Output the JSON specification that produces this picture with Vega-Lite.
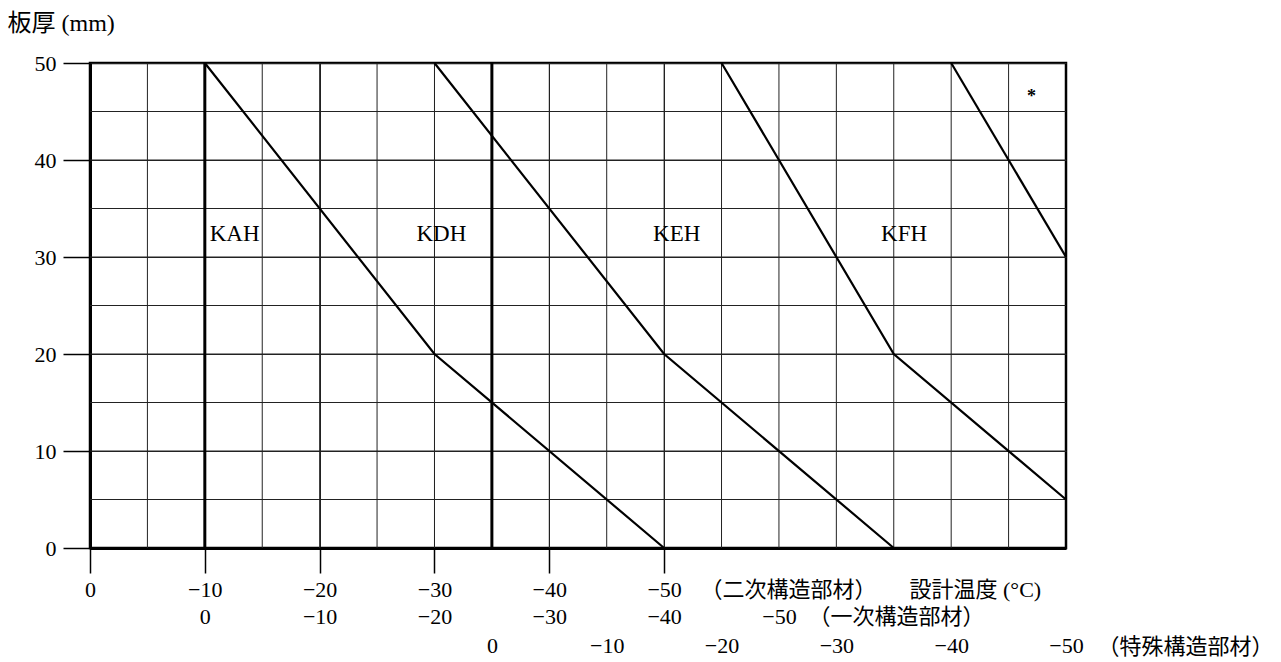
{
  "$schema": "https://vega.github.io/schema/vega-lite/v6.json",
  "width": 976,
  "height": 485,
  "padding": {"left": 7, "top": 11, "right": 5, "bottom": 5},
  "background": "white",
  "config": {
    "view": {"stroke": "black", "strokeWidth": 2.5},
    "axis": {
      "labelFont": "Liberation Serif",
      "labelFontSize": 22,
      "labelColor": "black",
      "titleFont": "'Liberation Serif', 'Noto Sans CJK JP'",
      "titleFontSize": 22,
      "titleFontWeight": "normal",
      "titleColor": "black",
      "labelFlush": false,
      "labelOverlap": false
    }
  },
  "datasets": {
    "curves": [
      {"series": "KAH", "x": -10, "y": 50},
      {"series": "KAH", "x": -30, "y": 20},
      {"series": "KAH", "x": -50, "y": 0},
      {"series": "KDH", "x": -30, "y": 50},
      {"series": "KDH", "x": -50, "y": 20},
      {"series": "KDH", "x": -70, "y": 0},
      {"series": "KEH", "x": -55, "y": 50},
      {"series": "KEH", "x": -70, "y": 20},
      {"series": "KEH", "x": -85, "y": 5},
      {"series": "KFH", "x": -75, "y": 50},
      {"series": "KFH", "x": -85, "y": 30}
    ],
    "labels": [
      {"x": -12.6, "y": 32.4, "text": "KAH"},
      {"x": -30.6, "y": 32.4, "text": "KDH"},
      {"x": -51.1, "y": 32.4, "text": "KEH"},
      {"x": -70.9, "y": 32.4, "text": "KFH"}
    ],
    "star": [{"x": -82, "y": 46.5, "text": "*"}],
    "thick": [{"x": -10}, {"x": -35}],
    "xgrid": [
      {"x": -5}, {"x": -10}, {"x": -15}, {"x": -20}, {"x": -25}, {"x": -30}, {"x": -35}, {"x": -40},
      {"x": -45}, {"x": -50}, {"x": -55}, {"x": -60}, {"x": -65}, {"x": -70}, {"x": -75}, {"x": -80}
    ],
    "ygrid": [
      {"y": 5}, {"y": 10}, {"y": 15}, {"y": 20}, {"y": 25}, {"y": 30}, {"y": 35}, {"y": 40}, {"y": 45}
    ],
    "dummy": [{"x": 0}]
  },
  "resolve": {"scale": {"x": "independent"}},
  "layer": [
    {
      "layer": [
        {
          "data": {"name": "xgrid"},
          "mark": {"type": "rule", "color": "#222", "strokeWidth": 1},
          "encoding": {
            "x": {
              "field": "x",
              "type": "quantitative",
              "scale": {"domain": [-85, 0], "reverse": true, "nice": false, "zero": false},
              "axis": {
                "orient": "bottom",
                "values": [0, -10, -20, -30, -40, -50],
                "grid": true,
                "gridColor": "#222",
                "gridWidth": 1,
                "domainColor": "black",
                "domainWidth": 3,
                "ticks": true,
                "tickColor": "black",
                "tickWidth": 1.5,
                "tickSize": 25,
                "labelPadding": 6,
                "title": "（二次構造部材）\u3000\u3000設計温度 (°C)",
                "titleX": 610,
                "titleY": 41,
                "titleAlign": "left",
                "titleAnchor": null,
                "titleBaseline": "middle"
              }
            }
          }
        },
        {
          "data": {"name": "ygrid"},
          "mark": {"type": "rule", "color": "#222", "strokeWidth": 1},
          "encoding": {
            "y": {
              "field": "y",
              "type": "quantitative",
              "scale": {"domain": [0, 50], "nice": false},
              "axis": {
                "orient": "left",
                "values": [0, 10, 20, 30, 40, 50],
                "grid": true,
                "gridColor": "#222",
                "gridWidth": 1,
                "domainColor": "black",
                "domainWidth": 3,
                "ticks": true,
                "tickColor": "black",
                "tickWidth": 1.5,
                "tickSize": 27,
                "labelPadding": 7,
                "title": "板厚 (mm)",
                "titleAngle": 0,
                "titleX": -83,
                "titleY": -40,
                "titleAlign": "left",
                "titleBaseline": "middle",
                "titleFontSize": 24
              }
            }
          }
        },
        {
          "data": {"name": "thick"},
          "mark": {"type": "rule", "color": "black", "strokeWidth": 3},
          "encoding": {
            "x": {"field": "x", "type": "quantitative"}
          }
        },
        {
          "data": {"name": "curves"},
          "mark": {"type": "line", "color": "black", "strokeWidth": 2.2},
          "encoding": {
            "x": {"field": "x", "type": "quantitative"},
            "y": {"field": "y", "type": "quantitative"},
            "detail": {"field": "series", "type": "nominal"}
          }
        },
        {
          "data": {"name": "labels"},
          "mark": {"type": "text", "font": "Liberation Serif", "fontSize": 23, "color": "black"},
          "encoding": {
            "x": {"field": "x", "type": "quantitative"},
            "y": {"field": "y", "type": "quantitative"},
            "text": {"field": "text"}
          }
        },
        {
          "data": {"name": "star"},
          "mark": {"type": "text", "font": "Liberation Serif", "fontSize": 18, "fontWeight": "bold", "color": "black"},
          "encoding": {
            "x": {"field": "x", "type": "quantitative"},
            "y": {"field": "y", "type": "quantitative"},
            "text": {"field": "text"}
          }
        }
      ]
    },
    {
      "data": {"name": "dummy"},
      "mark": {"type": "rule", "opacity": 0},
      "encoding": {
        "x": {
          "field": "x",
          "type": "quantitative",
          "scale": {"domain": [-75, 10], "reverse": true, "nice": false, "zero": false},
          "axis": {
            "orient": "bottom",
            "values": [0, -10, -20, -30, -40, -50],
            "grid": false,
            "domain": false,
            "ticks": false,
            "tickSize": 0,
            "labelPadding": 58,
            "title": "（一次構造部材）",
            "titleX": 718,
            "titleY": 68,
            "titleAlign": "left",
            "titleAnchor": null,
            "titleBaseline": "middle"
          }
        }
      }
    },
    {
      "data": {"name": "dummy"},
      "mark": {"type": "rule", "opacity": 0},
      "encoding": {
        "x": {
          "field": "x",
          "type": "quantitative",
          "scale": {"domain": [-50, 35], "reverse": true, "nice": false, "zero": false},
          "axis": {
            "orient": "bottom",
            "values": [0, -10, -20, -30, -40, -50],
            "grid": false,
            "domain": false,
            "ticks": false,
            "tickSize": 0,
            "labelPadding": 87,
            "title": "（特殊構造部材）",
            "titleX": 1007,
            "titleY": 98,
            "titleAlign": "left",
            "titleAnchor": null,
            "titleBaseline": "middle"
          }
        }
      }
    }
  ]
}
